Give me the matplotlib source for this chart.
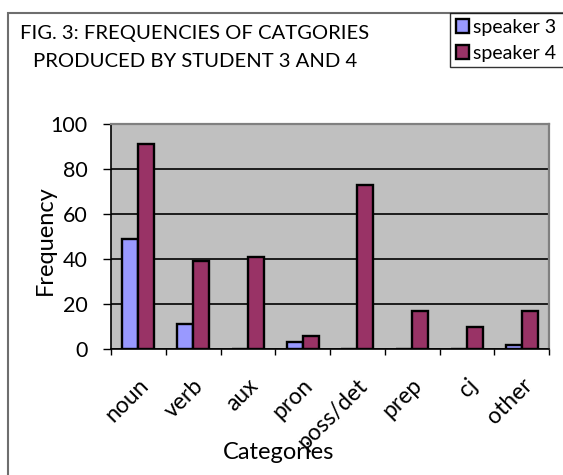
import numpy as np
import matplotlib
matplotlib.use("Agg")
import matplotlib.pyplot as plt
from matplotlib.patches import Rectangle
from matplotlib.ticker import MultipleLocator, FixedLocator, NullFormatter

plt.rcParams['font.family'] = ['Lato', 'DejaVu Sans']

categories = ["noun", "verb", "aux", "pron", "poss/det", "prep", "cj", "other"]
speaker3 = [49, 11, 0, 3, 0, 0, 0, 2]
speaker4 = [91, 39, 41, 6, 73, 17, 10, 17]
series_names = ["speaker 3", "speaker 4"]
title_lines = ["FIG. 3: FREQUENCIES OF CATGORIES", "PRODUCED BY STUDENT 3 AND 4"]

W, H = 563, 475
fig = plt.figure(figsize=(W / 100, H / 100), dpi=100)
fig.patch.set_facecolor("white")

def fx(px):
    return px / W

def fy(py):
    return 1 - py / H

# plot area
left, top, right, bottom = 111, 124, 549, 349
ax = fig.add_axes([fx(left), fy(bottom), fx(right - left), (bottom - top) / H])
ax.set_facecolor("#C0C0C0")

x = np.arange(len(categories))
w = 0.29
b3 = ax.bar(x - w / 2, speaker3, w, color="#9999FF", edgecolor="black",
            linewidth=1.7, label=series_names[0], zorder=3)
b4 = ax.bar(x + w / 2, speaker4, w, color="#993366", edgecolor="black",
            linewidth=1.7, label=series_names[1], zorder=3)

ax.set_xlim(-0.5, len(categories) - 0.5)
ax.set_ylim(0, 100)
ax.yaxis.set_major_locator(MultipleLocator(20))
ax.yaxis.grid(True, color="black", linewidth=1.2, zorder=1)
ax.set_axisbelow(True)

ax.tick_params(axis="y", direction="out", length=6, width=1, color="black",
               labelsize=15.5, pad=11)
# category separators on the x axis
ax.xaxis.set_major_locator(FixedLocator([]))
ax.xaxis.set_minor_locator(FixedLocator(np.arange(-0.5, len(categories), 1.0)))
ax.xaxis.set_minor_formatter(NullFormatter())
ax.tick_params(axis="x", which="minor", direction="out", length=4.5, width=1,
               color="black")

for s in ("left", "bottom"):
    ax.spines[s].set_color("black")
    ax.spines[s].set_linewidth(1.2)
for s in ("top", "right"):
    ax.spines[s].set_color("#808080")
    ax.spines[s].set_linewidth(1.6)

# rotated category labels
xt = ax.get_xaxis_transform()
for i, c in enumerate(categories):
    ax.text(i + 7 / 54.75, -33 / (bottom - top), c, transform=xt,
            rotation=45, rotation_mode="anchor", ha="right", va="center",
            fontsize=16.5, clip_on=False)

fig.text(fx(45), fy(240), "Frequency", rotation=90, ha="center",
         va="center", fontsize=17)
fig.text(fx(279), fy(459), "Categories", ha="center", va="baseline",
         fontsize=17)

# title
fig.text(fx(195), fy(39), title_lines[0], ha="center", va="baseline",
         fontsize=14.6)
fig.text(fx(195), fy(67), title_lines[1], ha="center", va="baseline",
         fontsize=14.6)

# legend, running off the right edge of the figure
leg = fig.legend(handles=[b3, b4], labels=series_names, loc="upper left",
                 bbox_to_anchor=(fx(450), fy(13) - 0.2, fx(130), 0.2),
                 mode="expand", fontsize=14,
                 frameon=True, fancybox=False, edgecolor="black",
                 handlelength=0.7, handleheight=0.7, handletextpad=0.2,
                 labelspacing=0.45, borderpad=0.3, borderaxespad=0)
leg.get_frame().set_linewidth(1.0)
for p in leg.get_patches():
    p.set_linewidth(1.7)

# chart-area border
fig.patches.append(Rectangle((fx(8), -0.1), 1.2, fy(13) + 0.1,
                             transform=fig.transFigure, fill=False,
                             edgecolor="#6e6e6e", linewidth=1.5, zorder=0))

fig.savefig("out.png", dpi=100)
